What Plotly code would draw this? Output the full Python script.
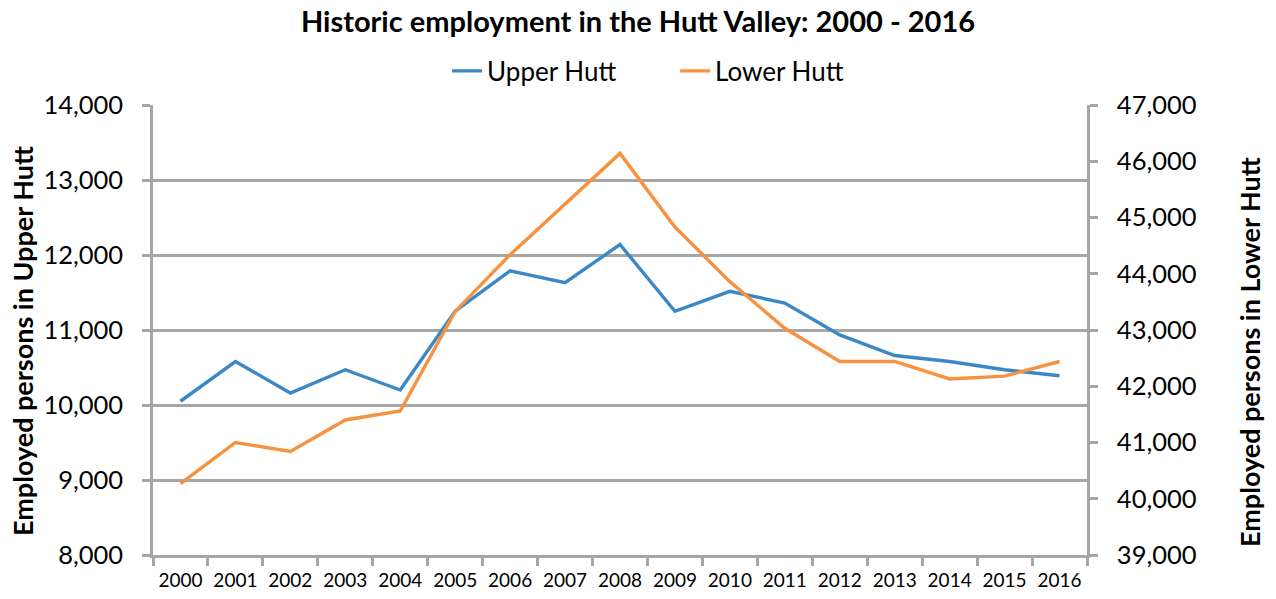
import plotly.graph_objects as go

years = [str(y) for y in range(2000, 2017)]
upper_hutt = [10050, 10580, 10160, 10470, 10200, 11250, 11790, 11630, 12140,
              11250, 11515, 11360, 10935, 10660, 10580, 10470, 10390]
lower_hutt = [40270, 41000, 40840, 41400, 41560, 43330, 44340, 45250, 46140,
              44830, 43860, 43030, 42440, 42440, 42130, 42180, 42440]

FONT = "Lato"
AXIS_COLOR = "#a6a6a6"

fig = go.Figure()
fig.add_trace(go.Scatter(x=years, y=upper_hutt, name="Upper Hutt", mode="lines",
                         line=dict(color="#3c87c6", width=3.4), yaxis="y"))
fig.add_trace(go.Scatter(x=years, y=lower_hutt, name="Lower Hutt", mode="lines",
                         line=dict(color="#f79241", width=3.4), yaxis="y2"))

fig.update_layout(
    width=1276, height=599,
    paper_bgcolor="white", plot_bgcolor="white",
    margin=dict(l=153, r=189, t=105, b=44, autoexpand=False),
    font=dict(family=FONT, color="black"),
    title=dict(text="<b>Historic employment in the Hutt Valley: 2000 - 2016</b>",
               x=0.5, xanchor="center", y=1 - 22 / 599, yanchor="middle",
               yref="container", font=dict(size=29, family=FONT)),
    legend=dict(orientation="h", x=0.559, xanchor="center", y=1 - 71 / 599,
                yanchor="middle", yref="container", entrywidth=183,
                font=dict(size=26, family=FONT), tracegroupgap=0,
                bgcolor="rgba(0,0,0,0)"),
    showlegend=True,
    xaxis=dict(type="category", showline=True, linecolor=AXIS_COLOR, linewidth=2.5,
               ticks="outside", tickson="boundaries", ticklen=8, tickwidth=2.5,
               tickcolor=AXIS_COLOR, showgrid=False, tickfont=dict(size=19, family=FONT),
               tickangle=0, ticklabelstandoff=6, range=[-0.5, 16.5], automargin=False),
    yaxis=dict(range=[8000, 14000], dtick=1000, tickformat=",d", showline=True,
               linecolor=AXIS_COLOR, linewidth=2.5, ticks="outside", ticklen=8,
               tickwidth=2.5, tickcolor=AXIS_COLOR, showgrid=True, gridcolor=AXIS_COLOR,
               gridwidth=2.5, zeroline=False, tickfont=dict(size=25.5, family=FONT),
               ticklabelstandoff=14, automargin=False),
    yaxis2=dict(range=[39000, 47000], dtick=1000, tickformat=",d", overlaying="y",
                side="right", showline=True, linecolor=AXIS_COLOR, linewidth=2.5,
                ticks="outside", ticklen=8, tickwidth=2.5, tickcolor=AXIS_COLOR,
                showgrid=False, zeroline=False, tickfont=dict(size=25.5, family=FONT),
                ticklabelstandoff=14, automargin=False),
    annotations=[
        dict(text="<b>Employed persons in Upper Hutt</b>", textangle=-90,
             xref="paper", yref="paper", x=(22 - 153) / 934, y=(555 - 341) / 450,
             xanchor="center", yanchor="middle", showarrow=False,
             font=dict(size=27, family=FONT, color="black")),
        dict(text="<b>Employed persons in Lower Hutt</b>", textangle=-90,
             xref="paper", yref="paper", x=(1249 - 153) / 934, y=(555 - 352) / 450,
             xanchor="center", yanchor="middle", showarrow=False,
             font=dict(size=27, family=FONT, color="black")),
    ],
)

fig.write_html("out.html", config={"displayModeBar": False},
               post_script="document.body.style.margin='0';")
